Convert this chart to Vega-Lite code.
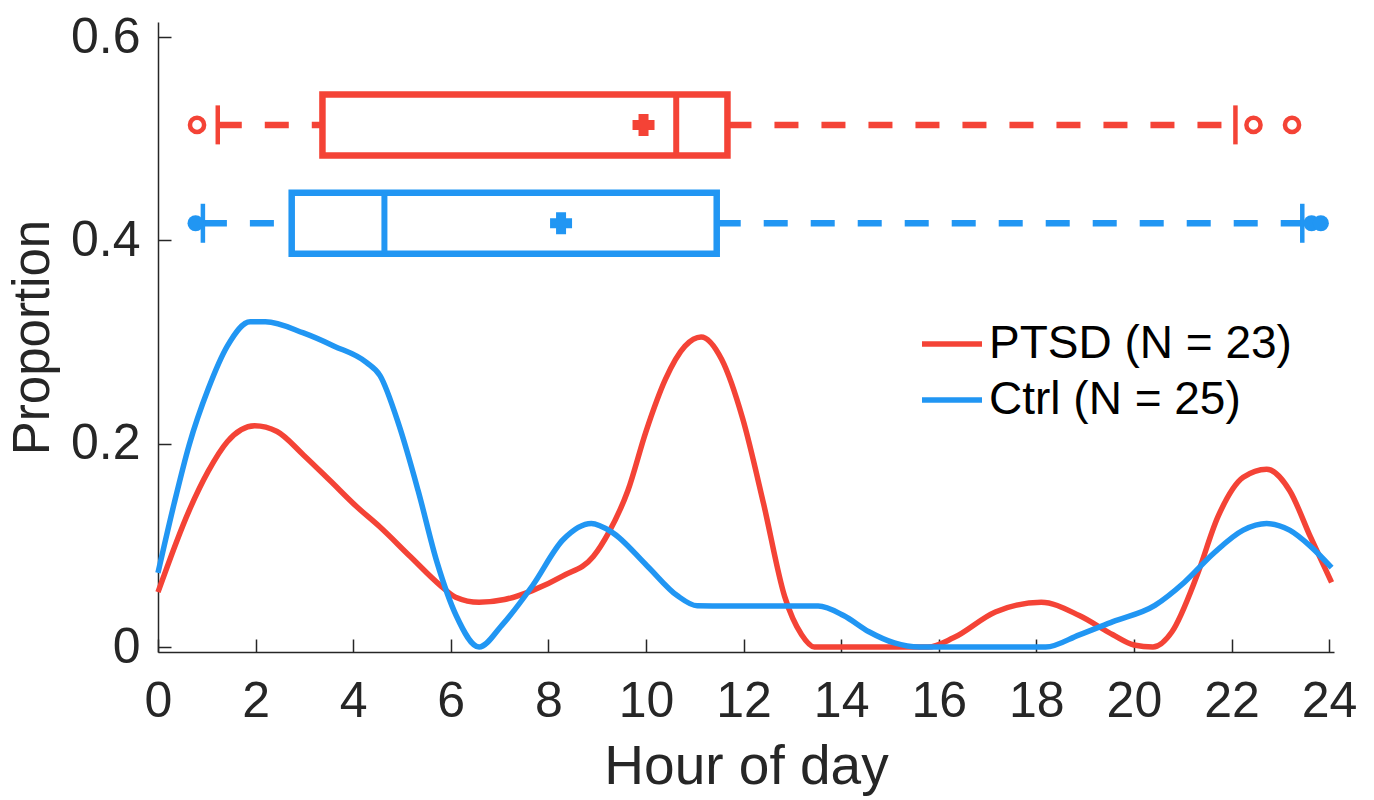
{
  "$schema": "https://vega.github.io/schema/vega-lite/v6.json",
  "width": 1176,
  "height": 630,
  "autosize": {"type": "none"},
  "padding": {"left": 158, "top": 22, "right": 40, "bottom": 148},
  "background": "white",
  "config": {
    "view": {"stroke": null},
    "font": "Liberation Sans",
    "axis": {
      "grid": false,
      "domainColor": "#262626",
      "domainWidth": 1.5,
      "tickColor": "#262626",
      "tickWidth": 1.5,
      "tickSize": -13,
      "labelFlush": false,
      "labelOverlap": false,
      "labelFont": "Liberation Sans",
      "labelFontSize": 50,
      "labelColor": "#262626",
      "titleFont": "Liberation Sans",
      "titleFontWeight": "normal",
      "titleColor": "#262626"
    },
    "axisX": {"labelPadding": 37, "titlePadding": 14, "titleFontSize": 55},
    "axisY": {"labelPadding": 31, "titlePadding": 11, "titleFontSize": 51}
  },
  "datasets": {
    "curves": [
      {"group": "PTSD (N = 23)", "hour": 0, "p": 0.054},
      {"group": "PTSD (N = 23)", "hour": 0.64, "p": 0.1345},
      {"group": "PTSD (N = 23)", "hour": 1.03, "p": 0.173},
      {"group": "PTSD (N = 23)", "hour": 1.42, "p": 0.202},
      {"group": "PTSD (N = 23)", "hour": 1.98, "p": 0.2177},
      {"group": "PTSD (N = 23)", "hour": 2.44, "p": 0.212},
      {"group": "PTSD (N = 23)", "hour": 2.98, "p": 0.189},
      {"group": "PTSD (N = 23)", "hour": 3.53, "p": 0.1635},
      {"group": "PTSD (N = 23)", "hour": 4.08, "p": 0.1377},
      {"group": "PTSD (N = 23)", "hour": 4.55, "p": 0.118},
      {"group": "PTSD (N = 23)", "hour": 5.17, "p": 0.089},
      {"group": "PTSD (N = 23)", "hour": 5.8, "p": 0.06},
      {"group": "PTSD (N = 23)", "hour": 6.1, "p": 0.049},
      {"group": "PTSD (N = 23)", "hour": 6.58, "p": 0.044},
      {"group": "PTSD (N = 23)", "hour": 7.1, "p": 0.0467},
      {"group": "PTSD (N = 23)", "hour": 7.67, "p": 0.0555},
      {"group": "PTSD (N = 23)", "hour": 8.3, "p": 0.07},
      {"group": "PTSD (N = 23)", "hour": 8.92, "p": 0.089},
      {"group": "PTSD (N = 23)", "hour": 9.23, "p": 0.112},
      {"group": "PTSD (N = 23)", "hour": 9.63, "p": 0.154},
      {"group": "PTSD (N = 23)", "hour": 10.0, "p": 0.212},
      {"group": "PTSD (N = 23)", "hour": 10.4, "p": 0.2635},
      {"group": "PTSD (N = 23)", "hour": 10.8, "p": 0.296},
      {"group": "PTSD (N = 23)", "hour": 11.13, "p": 0.305},
      {"group": "PTSD (N = 23)", "hour": 11.55, "p": 0.283},
      {"group": "PTSD (N = 23)", "hour": 11.98, "p": 0.225},
      {"group": "PTSD (N = 23)", "hour": 12.41, "p": 0.141},
      {"group": "PTSD (N = 23)", "hour": 12.84, "p": 0.05},
      {"group": "PTSD (N = 23)", "hour": 13.19, "p": 0.012},
      {"group": "PTSD (N = 23)", "hour": 13.45, "p": 0},
      {"group": "PTSD (N = 23)", "hour": 15.78, "p": 0},
      {"group": "PTSD (N = 23)", "hour": 16.3, "p": 0.009},
      {"group": "PTSD (N = 23)", "hour": 17.16, "p": 0.0345},
      {"group": "PTSD (N = 23)", "hour": 18.1, "p": 0.044},
      {"group": "PTSD (N = 23)", "hour": 18.88, "p": 0.031},
      {"group": "PTSD (N = 23)", "hour": 19.57, "p": 0.012},
      {"group": "PTSD (N = 23)", "hour": 20.0, "p": 0.002},
      {"group": "PTSD (N = 23)", "hour": 20.39, "p": 0},
      {"group": "PTSD (N = 23)", "hour": 20.78, "p": 0.015},
      {"group": "PTSD (N = 23)", "hour": 21.29, "p": 0.07},
      {"group": "PTSD (N = 23)", "hour": 21.72, "p": 0.128},
      {"group": "PTSD (N = 23)", "hour": 22.24, "p": 0.167},
      {"group": "PTSD (N = 23)", "hour": 22.72, "p": 0.175},
      {"group": "PTSD (N = 23)", "hour": 23.19, "p": 0.154},
      {"group": "PTSD (N = 23)", "hour": 23.62, "p": 0.108},
      {"group": "PTSD (N = 23)", "hour": 24.05, "p": 0.0635},
      {"group": "Ctrl (N = 25)", "hour": 0, "p": 0.073},
      {"group": "Ctrl (N = 25)", "hour": 0.33, "p": 0.141},
      {"group": "Ctrl (N = 25)", "hour": 0.64, "p": 0.199},
      {"group": "Ctrl (N = 25)", "hour": 1.03, "p": 0.254},
      {"group": "Ctrl (N = 25)", "hour": 1.42, "p": 0.296},
      {"group": "Ctrl (N = 25)", "hour": 1.89, "p": 0.32},
      {"group": "Ctrl (N = 25)", "hour": 2.2, "p": 0.32},
      {"group": "Ctrl (N = 25)", "hour": 2.98, "p": 0.309},
      {"group": "Ctrl (N = 25)", "hour": 3.61, "p": 0.296},
      {"group": "Ctrl (N = 25)", "hour": 4.27, "p": 0.28},
      {"group": "Ctrl (N = 25)", "hour": 4.55, "p": 0.267},
      {"group": "Ctrl (N = 25)", "hour": 4.94, "p": 0.218},
      {"group": "Ctrl (N = 25)", "hour": 5.33, "p": 0.154},
      {"group": "Ctrl (N = 25)", "hour": 5.72, "p": 0.083},
      {"group": "Ctrl (N = 25)", "hour": 6.11, "p": 0.031},
      {"group": "Ctrl (N = 25)", "hour": 6.58, "p": 0},
      {"group": "Ctrl (N = 25)", "hour": 7.05, "p": 0.0216},
      {"group": "Ctrl (N = 25)", "hour": 7.67, "p": 0.06},
      {"group": "Ctrl (N = 25)", "hour": 8.3, "p": 0.1055},
      {"group": "Ctrl (N = 25)", "hour": 8.88, "p": 0.1215},
      {"group": "Ctrl (N = 25)", "hour": 9.3, "p": 0.113},
      {"group": "Ctrl (N = 25)", "hour": 10.02, "p": 0.08},
      {"group": "Ctrl (N = 25)", "hour": 10.64, "p": 0.0506},
      {"group": "Ctrl (N = 25)", "hour": 11.05, "p": 0.0405},
      {"group": "Ctrl (N = 25)", "hour": 11.5, "p": 0.0403},
      {"group": "Ctrl (N = 25)", "hour": 13.53, "p": 0.0403},
      {"group": "Ctrl (N = 25)", "hour": 14.05, "p": 0.031},
      {"group": "Ctrl (N = 25)", "hour": 14.57, "p": 0.015},
      {"group": "Ctrl (N = 25)", "hour": 15.09, "p": 0.004},
      {"group": "Ctrl (N = 25)", "hour": 15.6, "p": 0},
      {"group": "Ctrl (N = 25)", "hour": 18.19, "p": 0},
      {"group": "Ctrl (N = 25)", "hour": 18.88, "p": 0.012},
      {"group": "Ctrl (N = 25)", "hour": 19.57, "p": 0.025},
      {"group": "Ctrl (N = 25)", "hour": 20.43, "p": 0.041},
      {"group": "Ctrl (N = 25)", "hour": 21.03, "p": 0.0635},
      {"group": "Ctrl (N = 25)", "hour": 21.64, "p": 0.0925},
      {"group": "Ctrl (N = 25)", "hour": 22.24, "p": 0.115},
      {"group": "Ctrl (N = 25)", "hour": 22.72, "p": 0.1215},
      {"group": "Ctrl (N = 25)", "hour": 23.19, "p": 0.115},
      {"group": "Ctrl (N = 25)", "hour": 23.62, "p": 0.099},
      {"group": "Ctrl (N = 25)", "hour": 24.05, "p": 0.078}
    ],
    "boxes": [
      {"group": "PTSD (N = 23)", "pos": 0.5137, "wlo": 1.225, "q1": 3.37, "med": 10.62, "q3": 11.67, "whi": 22.08, "mean": 9.95},
      {"group": "Ctrl (N = 25)", "pos": 0.4169, "wlo": 0.92, "q1": 2.74, "med": 4.64, "q3": 11.45, "whi": 23.45, "mean": 8.26}
    ],
    "outliers": [
      {"group": "PTSD (N = 23)", "pos": 0.5137, "hour": 0.8},
      {"group": "PTSD (N = 23)", "pos": 0.5137, "hour": 22.45},
      {"group": "PTSD (N = 23)", "pos": 0.5137, "hour": 23.24},
      {"group": "Ctrl (N = 25)", "pos": 0.4169, "hour": 0.77},
      {"group": "Ctrl (N = 25)", "pos": 0.4169, "hour": 23.64},
      {"group": "Ctrl (N = 25)", "pos": 0.4169, "hour": 23.83}
    ]
  },
  "layer": [
    {
      "data": {"name": "curves"},
      "mark": {"type": "line", "interpolate": "monotone", "strokeWidth": 5.5, "clip": false},
      "encoding": {
        "x": {"field": "hour", "type": "quantitative", "scale": {"domain": [0, 24.1], "nice": false, "zero": false},
              "axis": {"values": [0, 2, 4, 6, 8, 10, 12, 14, 16, 18, 20, 22, 24], "title": "Hour of day", "format": "~g"}},
        "y": {"field": "p", "type": "quantitative", "scale": {"domain": [0, 0.61], "nice": false, "zero": false},
              "axis": {"values": [0, 0.2, 0.4, 0.6], "title": "Proportion", "format": "~g"}},
        "color": {"field": "group", "type": "nominal",
                  "scale": {"domain": ["PTSD (N = 23)", "Ctrl (N = 25)"], "range": ["#F44336", "#2196F3"]},
                  "legend": {"orient": "none", "legendX": 761, "legendY": 289, "title": null,
                             "symbolType": "stroke", "symbolSize": 3600, "symbolStrokeWidth": 5.5,
                             "labelFont": "Liberation Sans", "labelFontSize": 46, "labelColor": "#000",
                             "labelLimit": 500, "labelOffset": 4, "rowPadding": -6}},
        "detail": {"field": "group"}
      }
    },
    {
      "data": {"name": "boxes"},
      "mark": {"type": "rule", "strokeWidth": 6.5, "strokeDash": [24, 23]},
      "encoding": {
        "x": {"field": "wlo", "type": "quantitative"},
        "x2": {"field": "q1"},
        "y": {"field": "pos", "type": "quantitative"},
        "color": {"field": "group", "type": "nominal", "legend": null}
      }
    },
    {
      "data": {"name": "boxes"},
      "mark": {"type": "rule", "strokeWidth": 6.5, "strokeDash": [24, 23]},
      "encoding": {
        "x": {"field": "q3", "type": "quantitative"},
        "x2": {"field": "whi"},
        "y": {"field": "pos", "type": "quantitative"},
        "color": {"field": "group", "type": "nominal", "legend": null}
      }
    },
    {
      "data": {"name": "boxes"},
      "transform": [{"fold": ["wlo", "whi"], "as": ["end", "hour"]}],
      "mark": {"type": "tick", "orient": "vertical", "size": 39, "thickness": 4.5, "opacity": 1},
      "encoding": {
        "x": {"field": "hour", "type": "quantitative"},
        "y": {"field": "pos", "type": "quantitative"},
        "color": {"field": "group", "type": "nominal", "legend": null}
      }
    },
    {
      "data": {"name": "boxes"},
      "mark": {"type": "bar", "filled": false, "height": 61, "strokeWidth": 6.5},
      "encoding": {
        "x": {"field": "q1", "type": "quantitative"},
        "x2": {"field": "q3"},
        "y": {"field": "pos", "type": "quantitative"},
        "color": {"field": "group", "type": "nominal", "legend": null}
      }
    },
    {
      "data": {"name": "boxes"},
      "mark": {"type": "tick", "orient": "vertical", "size": 61, "thickness": 6, "opacity": 1},
      "encoding": {
        "x": {"field": "med", "type": "quantitative"},
        "y": {"field": "pos", "type": "quantitative"},
        "color": {"field": "group", "type": "nominal", "legend": null}
      }
    },
    {
      "data": {"name": "boxes"},
      "mark": {"type": "point", "shape": "cross", "size": 400, "filled": true, "opacity": 1, "strokeWidth": 2},
      "encoding": {
        "x": {"field": "mean", "type": "quantitative"},
        "y": {"field": "pos", "type": "quantitative"},
        "color": {"field": "group", "type": "nominal", "legend": null},
        "stroke": {"field": "group", "type": "nominal", "legend": null,
                   "scale": {"domain": ["PTSD (N = 23)", "Ctrl (N = 25)"], "range": ["#F44336", "#2196F3"]}}
      }
    },
    {
      "data": {"name": "outliers"},
      "transform": [{"filter": "datum.group === 'PTSD (N = 23)'"}],
      "mark": {"type": "point", "shape": "circle", "size": 200, "filled": false, "opacity": 1, "strokeWidth": 4.5},
      "encoding": {
        "x": {"field": "hour", "type": "quantitative"},
        "y": {"field": "pos", "type": "quantitative"},
        "color": {"field": "group", "type": "nominal", "legend": null}
      }
    },
    {
      "data": {"name": "outliers"},
      "transform": [{"filter": "datum.group === 'Ctrl (N = 25)'"}],
      "mark": {"type": "point", "shape": "circle", "size": 260, "filled": true, "opacity": 1},
      "encoding": {
        "x": {"field": "hour", "type": "quantitative"},
        "y": {"field": "pos", "type": "quantitative"},
        "color": {"field": "group", "type": "nominal", "legend": null}
      }
    }
  ]
}
